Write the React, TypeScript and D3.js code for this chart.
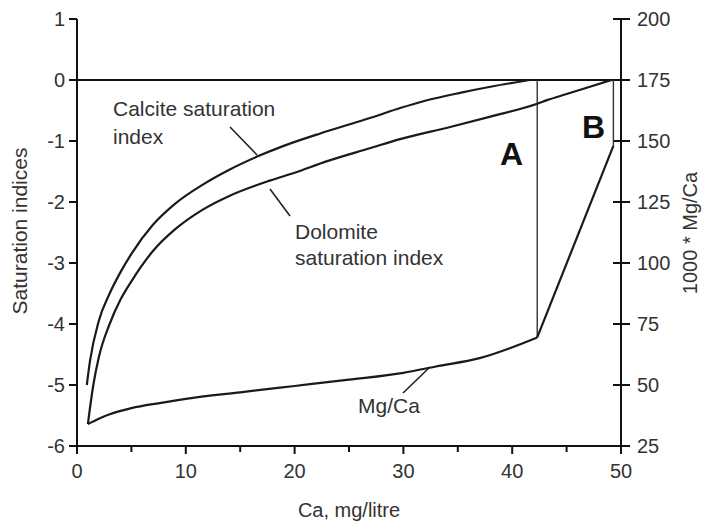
import React from "react";
import * as d3 from "d3";

// Ca (mg/litre) vs saturation index
const calciteCa = [0.9, 1.2, 2, 3, 4, 5, 7, 9, 11.6, 14, 16.5, 19, 22.3, 25, 27, 29.7, 32, 35.2, 38, 41.6];
const calciteSI = [-5.0, -4.6, -3.95, -3.5, -3.15, -2.85, -2.37, -2.03, -1.71, -1.47, -1.26, -1.08, -0.88, -0.73, -0.62, -0.46, -0.34, -0.21, -0.11, 0];

const dolomiteCa = [1.0, 1.5, 2, 3, 4, 5, 7, 9, 11.6, 14, 17.7, 20, 23, 26.9, 29.7, 34.3, 38, 42.3, 43.2, 45, 47, 49.1];
const dolomiteSI = [-5.64, -5.0, -4.55, -4.0, -3.6, -3.3, -2.8, -2.45, -2.12, -1.9, -1.65, -1.52, -1.33, -1.12, -0.97, -0.77, -0.6, -0.39, -0.33, -0.23, -0.12, 0];

// Ca vs 1000*Mg/Ca (smooth part, then straight segment to B)
const mgcaCa = [1.0, 2, 3, 5, 7.6, 10, 15, 20, 25, 30, 33, 37, 42.3];
const mgcaVal = [34, 36.2, 38, 40.5, 42.6, 44.3, 47, 49.6, 52.2, 55, 57.6, 61, 69.5];
const mgcaEndCa = [42.3, 49.3];
const mgcaEndVal = [69.5, 148];

// vertical drop lines (Ca, Mg/Ca at bottom)
const dropCa = [42.3, 49.3];
const dropMgCa = [69.5, 148];

const xTicks = [0, 10, 20, 30, 40, 50];
const xMinor = [5, 15, 25, 35, 45];
const yLeftTicks = [1, 0, -1, -2, -3, -4, -5, -6];
const yRightTicks = [200, 175, 150, 125, 100, 75, 50, 25];

export default function App() {
  const W = 705, H = 529;
  const x = d3.scaleLinear().domain([0, 50]).range([77, 621]);
  const yL = d3.scaleLinear().domain([-6, 1]).range([446, 19]);
  const yR = d3.scaleLinear().domain([25, 200]).range([446, 19]);

  const lineL = d3.line<[number, number]>().x((d) => x(d[0])).y((d) => yL(d[1])).curve(d3.curveMonotoneX);
  const lineRs = d3.line<[number, number]>().x((d) => x(d[0])).y((d) => yR(d[1])).curve(d3.curveMonotoneX);
  const lineR = d3.line<[number, number]>().x((d) => x(d[0])).y((d) => yR(d[1]));

  const calc = calciteCa.map((c, i) => [c, calciteSI[i]] as [number, number]);
  const dolo = dolomiteCa.map((c, i) => [c, dolomiteSI[i]] as [number, number]);
  const mg = mgcaCa.map((c, i) => [c, mgcaVal[i]] as [number, number]);
  const mgEnd = mgcaEndCa.map((c, i) => [c, mgcaEndVal[i]] as [number, number]);

  const font = "Liberation Sans, Arial, Helvetica, sans-serif";
  const tc = "#333";
  const fs = 20;
  const fa = 21;

  return (
    <svg width={W} height={H} style={{ position: "absolute", left: 0, top: 0, background: "#fff" }} fontFamily={font}>
      {/* axes */}
      <line x1={x(0)} x2={x(0)} y1={yL(1)} y2={yL(-6) + 8} stroke="#111" strokeWidth={2} />
      <line x1={x(50)} x2={x(50)} y1={yR(200)} y2={yR(25) + 8} stroke="#111" strokeWidth={2} />
      <line x1={x(0)} x2={x(50) + 8} y1={yL(-6)} y2={yL(-6)} stroke="#111" strokeWidth={2} />
      {/* zero line */}
      <line x1={x(0)} x2={x(50)} y1={yL(0)} y2={yL(0)} stroke="#111" strokeWidth={2.2} />

      {yLeftTicks.map((t) => (
        <g key={"l" + t}>
          <line x1={x(0) - 8} x2={x(0)} y1={yL(t)} y2={yL(t)} stroke="#111" strokeWidth={2} />
          <text x={x(0) - 12} y={yL(t)} dy="0.35em" textAnchor="end" fontSize={fs} fill={tc}>{t}</text>
        </g>
      ))}
      {yRightTicks.map((t) => (
        <g key={"r" + t}>
          <line x1={x(50) - 8} x2={x(50) + 9} y1={yR(t)} y2={yR(t)} stroke="#111" strokeWidth={2} />
          <text x={x(50) + 16} y={yR(t)} dy="0.35em" textAnchor="start" fontSize={fs} fill={tc}>{t}</text>
        </g>
      ))}
      {xTicks.map((t) => (
        <g key={"x" + t}>
          <line x1={x(t)} x2={x(t)} y1={yL(-6)} y2={yL(-6) + 8} stroke="#111" strokeWidth={2} />
          <text x={x(t)} y={471} dy="0.35em" textAnchor="middle" fontSize={fs} fill={tc}>{t}</text>
        </g>
      ))}
      {xMinor.map((t) => (
        <line key={"m" + t} x1={x(t)} x2={x(t)} y1={yL(-6)} y2={yL(-6) + 6} stroke="#111" strokeWidth={2} />
      ))}

      {/* axis titles */}
      <text x={349} y={510} dy="0.35em" textAnchor="middle" fontSize={fs} fill={tc}>Ca, mg/litre</text>
      <text transform={`translate(20,231) rotate(-90)`} dy="0.35em" textAnchor="middle" fontSize={fa} fill={tc}>Saturation indices</text>
      <text transform={`translate(690,233) rotate(-90)`} dy="0.35em" textAnchor="middle" fontSize={fs} fill={tc}>1000 * Mg/Ca</text>

      {/* drop lines */}
      {dropCa.map((c, i) => (
        <line key={"d" + i} x1={x(c)} x2={x(c)} y1={yL(0)} y2={yR(dropMgCa[i])} stroke="#333" strokeWidth={1.4} />
      ))}

      {/* curves */}
      <path d={lineL(calc) || ""} fill="none" stroke="#1a1a1a" strokeWidth={2.2} />
      <path d={lineL(dolo) || ""} fill="none" stroke="#1a1a1a" strokeWidth={2.2} />
      <path d={lineRs(mg) || ""} fill="none" stroke="#1a1a1a" strokeWidth={2.2} />
      <path d={lineR(mgEnd) || ""} fill="none" stroke="#1a1a1a" strokeWidth={2.2} />

      {/* annotations */}
      <text x={113} y={109} dy="0.35em" fontSize={fa} fill={tc}>Calcite saturation</text>
      <text x={113} y={137} dy="0.35em" fontSize={fa} fill={tc}>index</text>
      <line x1={230} y1={127} x2={257} y2={155} stroke="#222" strokeWidth={1.6} />

      <text x={295} y={232} dy="0.35em" fontSize={fa} fill={tc}>Dolomite</text>
      <text x={295} y={258} dy="0.35em" fontSize={fa} fill={tc}>saturation index</text>
      <line x1={270} y1={189} x2={290} y2={216} stroke="#222" strokeWidth={1.6} />

      <text x={358} y={406} dy="0.35em" fontSize={fa} fill={tc}>Mg/Ca</text>
      <line x1={403} y1={393} x2={430} y2={367} stroke="#222" strokeWidth={1.6} />

      <text x={500} y={165} fontSize={32} fontWeight="bold" fill="#111">A</text>
      <text x={582} y={138} fontSize={32} fontWeight="bold" fill="#111">B</text>
    </svg>
  );
}
